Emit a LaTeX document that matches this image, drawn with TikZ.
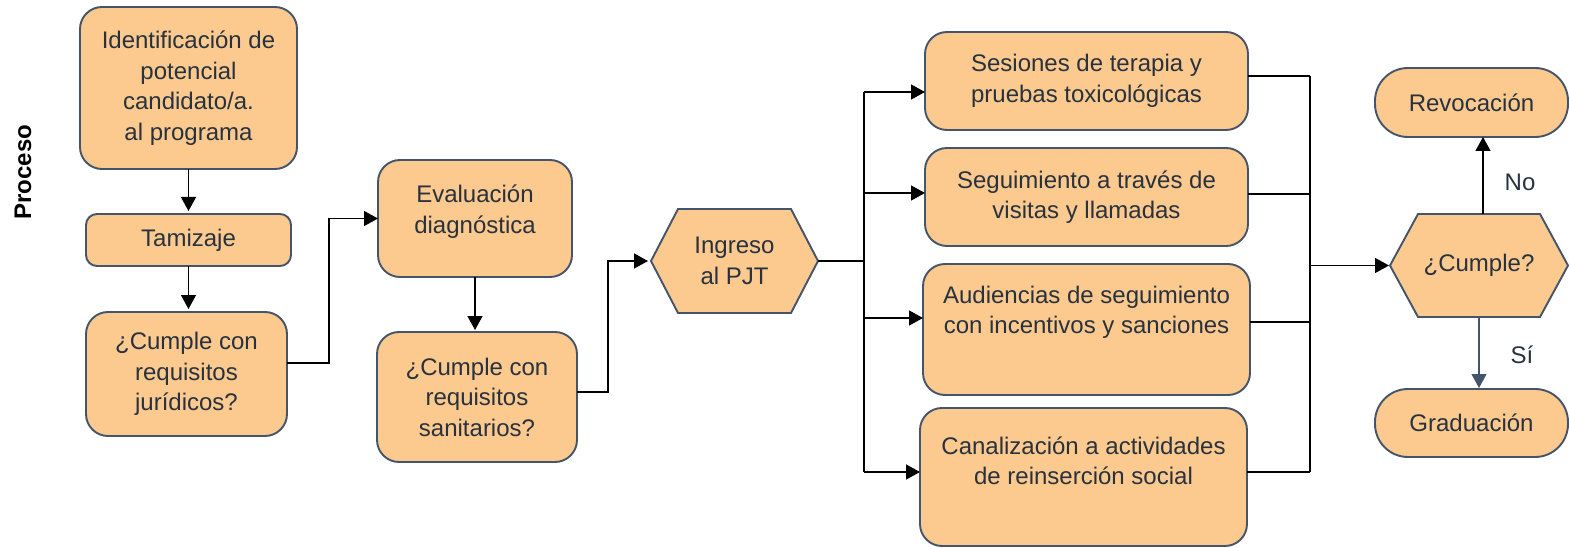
\documentclass[tikz,border=0pt]{standalone}
\usepackage{fontspec}
\setmainfont{Liberation Sans}
\usetikzlibrary{arrows.meta}

\definecolor{boxfill}{RGB}{252,201,143}
\definecolor{boxline}{RGB}{68,84,106}
\definecolor{boxtext}{RGB}{40,50,62}

\pgfdeclarelayer{bg}
\pgfsetlayers{bg,main}

% hexagon drawn behind a node
\newcommand\hexbg[2]{%
  \begin{pgfonlayer}{bg}
    \path[hexline] (#1.west) -- ([xshift=#2]#1.north west) -- ([xshift=-#2]#1.north east)
      -- (#1.east) -- ([xshift=-#2]#1.south east) -- ([xshift=#2]#1.south west) -- cycle;
  \end{pgfonlayer}}

\begin{document}
\begin{tikzpicture}[x=1pt,y=-1pt,
    every node/.style={font=\fontsize{24}{30.5}\selectfont, text=boxtext, align=center,
      inner sep=0pt, outer sep=0pt},
    box/.style={draw=boxline, fill=boxfill, line width=1.9pt, rounded corners=22pt},
    term/.style={draw=boxline, fill=boxfill, line width=1.9pt, rounded corners=33pt},
    hexline/.style={draw=boxline, fill=boxfill, line width=1.9pt},
    arr/.style={line width=1.3pt, -{Triangle[length=14pt,width=15pt]}},
    wire/.style={line width=1.3pt}]

  \useasboundingbox (0,0) rectangle (1569,548);

  \node[rotate=90, font=\fontsize{24}{28}\selectfont\bfseries, text=black] (proc) at (23,172) {Proceso};

  % first column
  \node[box, minimum width=217pt, minimum height=162pt] (ident) at (188.5,88)
    {Identificación de\\potencial\\candidato/a.\\al programa};
  \node[box, rounded corners=11pt, minimum width=205pt, minimum height=52pt] (tam) at (188.5,240) {Tamizaje};
  \node[box, minimum width=201pt, minimum height=124pt] (jur) at (186.5,374)
    {¿Cumple con\\requisitos\\jurídicos?};

  % second column
  \node[box, minimum width=194pt, minimum height=117pt] (eval) at (475,218.5) {};
  \node (evaltxt) at ([yshift=7pt]eval.center) {Evaluación\\diagnóstica};
  \node[box, minimum width=200pt, minimum height=130pt] (san) at (477,397)
    {¿Cumple con\\requisitos\\sanitarios?};

  \node[minimum width=167pt, minimum height=104pt] (ing) at (734.5,261) {Ingreso\\al PJT};
  \hexbg{ing}{27pt}

  % activities
  \node[box, minimum width=323pt, minimum height=98pt] (ses) at (1086.5,81)
    {Sesiones de terapia y\\pruebas toxicológicas};
  \node[box, minimum width=323pt, minimum height=98pt] (seg) at (1086.5,197)
    {Seguimiento a través de\\visitas y llamadas};
  \node[box, minimum width=327pt, minimum height=131pt] (aud) at (1086.5,329.5) {};
  \node (audtxt) at ([yshift=17pt]aud.center) {Audiencias de seguimiento\\con incentivos y sanciones};
  \node[box, minimum width=327pt, minimum height=138pt] (can) at (1083.5,477) {};
  \node (cantxt) at ([yshift=16pt]can.center) {Canalización a actividades\\de reinserción social};

  % decision
  \node[minimum width=178pt, minimum height=103pt] (cum) at (1479,265.5) {¿Cumple?};
  \hexbg{cum}{28pt}
  \node[term, minimum width=193pt, minimum height=69pt] (rev) at (1471.5,102.5) {Revocación};
  \node[term, minimum width=193pt, minimum height=68pt] (grad) at (1471.5,423) {Graduación};

  % connectors
  \draw[arr, shorten >=3pt] (ident.south) -- (ident.south |- tam.north);
  \draw[arr, shorten >=3pt] (tam.south) -- (tam.south |- jur.north);
  \draw[arr] ([yshift=11pt]jur.east) -- ++(42,0) |- (eval.west);
  \draw[arr, shorten >=2pt] (eval.south) -- (eval.south |- san.north);
  \draw[arr, shorten >=3pt] ([yshift=5pt]san.east) -- ++(31,0) |- (ing.west);

  \coordinate (busl) at (864,261);
  \coordinate (sesin) at ([yshift=-11pt]ses.west);
  \coordinate (segin) at ([yshift=4pt]seg.west);
  \coordinate (audin) at ([yshift=11.5pt]aud.west);
  \coordinate (canin) at ([yshift=5pt]can.west);
  \draw[wire] (ing.east) -- (busl);
  \draw[wire] (busl |- sesin) -- (busl |- canin);
  \foreach \t in {sesin,segin,audin,canin}
    \draw[arr] (busl |- \t) -- (\t);

  \coordinate (busr) at (1310,268);
  \coordinate (sesout) at ([yshift=5pt]ses.east);
  \coordinate (segout) at ([yshift=3pt]seg.east);
  \coordinate (audout) at ([yshift=7.5pt]aud.east);
  \coordinate (canout) at ([yshift=5pt]can.east);
  \foreach \t in {sesout,segout,audout,canout}
    \draw[wire] (\t) -- (busr |- \t);
  \draw[wire] (busr |- sesout) -- (busr |- canout);
  \draw[arr, shorten >=1pt] (busr |- cum.west) -- (cum.west);

  \draw[arr] ([xshift=4pt]cum.north) -- ([xshift=4pt]cum.north |- rev.south);
  \draw[arr, draw=boxline, fill=boxline, shorten >=1pt] (cum.south) -- (cum.south |- grad.north);
  \node (no) at (1520,182) {No};
  \node (si) at (1522,355) {Sí};

\end{tikzpicture}
\end{document}
